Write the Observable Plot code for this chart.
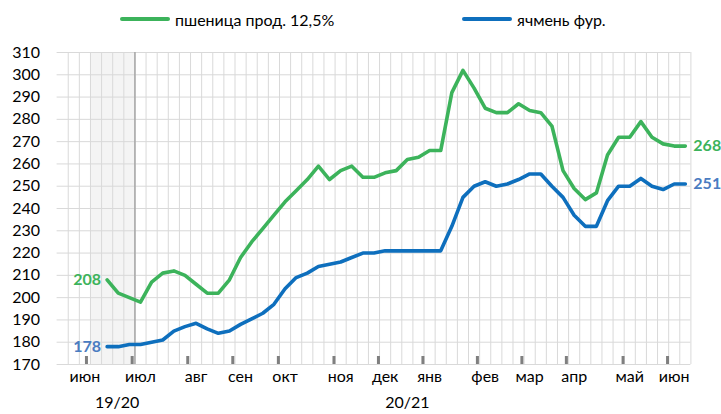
<!DOCTYPE html>
<html><head><meta charset="utf-8">
<script src="https://cdn.jsdelivr.net/npm/d3@7"></script>
<script src="https://cdn.jsdelivr.net/npm/@observablehq/plot@0.6"></script>
<style>
body{margin:0;background:#fff;font-family:Lato,"Open Sans",sans-serif;}
#wrap{width:721px;height:414px;position:relative;overflow:hidden;background:#fff}
#legend{height:40px;position:relative;font-size:16px;color:#000}
.item{position:absolute;top:0;height:38px;display:flex;align-items:center;white-space:nowrap}
.sw{width:50px;height:4px;border-radius:2px;margin-right:5px}
</style></head><body>
<div id="wrap"><div id="legend"></div><div id="chart"></div></div>
<script>
// ---- data ----
const seriesNames = ["пшеница прод. 12,5%", "ячмень фур."];
const firstWeek = 4;           // category index of the first observation
const totalWeeks = 57;         // number of weekly categories on the axis
const wheat = [208,202,200,198,207,211,212,210,206,202,202,208,218,225,231,237,243,248,253,259,253,257,259,254,254,256,257,262,263,266,266,292,302,294,285,283,283,287,284,283,277,257,249,244,247,264,272,272,279,272,269,268,268];
const barley = [178,178,179,179,180,181,185,187,188.5,186,184,185,188,190.5,193,197,204,209,211,214,215,216,218,220,220,221,221,221,221,221,221,232,245,250,252,250,251,253,255.5,255.5,250,245,237,232,232,243.5,250,250,253.5,250,248.5,251,251];
const monthNames = ["июн","июл","авг","сен","окт","ноя","дек","янв","фев","мар","апр","май","июн"];
const monthLabelPos = [2.5,7.5,12.5,16.5,20.5,25.5,29.5,33.5,38.5,42.5,46.5,51.5,55.5];
const monthTickPos = [2.64,6.75,11.75,15.8,19.9,24.9,28.9,32.9,37.8,41.8,45.8,50.9,54.9];
const seasons = ["19/20","20/21"];
const seasonPos = [5.4,31.5];
const shade = [3,7];           // shaded weeks (previous season)
const yTicks = [170,180,190,200,210,220,230,240,250,260,270,280,290,300,310];

const green = "#3cb35b", blue = "#0e6fbd", blueLabel = "#4a7cc1";

// ---- legend ----
const leg = document.getElementById("legend");
[[seriesNames[0], green, 120],[seriesNames[1], blue, 462]].forEach(([t,c,l])=>{
  const d = document.createElement("div"); d.className="item"; d.style.left=l+"px";
  d.innerHTML = `<span class="sw" style="background:${c}"></span><span>${t}</span>`;
  leg.appendChild(d);
});

// ---- tables ----
const rows = (vals) => vals.map((v,i)=>({x: firstWeek + i + 0.5, y: v}));
const wRows = rows(wheat), bRows = rows(barley);
const gridX = d3.range(1, totalWeeks + 1);
const months = monthNames.map((m,i)=>({m, x: monthLabelPos[i]}));
const seas = seasons.map((s,i)=>({s, x: seasonPos[i]}));
const ends = [
  {...wRows[0], c: green, side:"start"}, {...bRows[0], c: blueLabel, side:"start"},
  {...wRows[wRows.length-1], c: green, side:"end"}, {...bRows[bRows.length-1], c: blueLabel, side:"end"}
];

const chart = Plot.plot({
  width: 721, height: 374,
  marginLeft: 56.6, marginRight: 30.6, marginTop: 12, marginBottom: 50,
  style: {fontFamily: 'Lato,"Open Sans",sans-serif', fontSize: "16px", color: "#000", background: "#fff"},
  x: {domain: [0, totalWeeks], axis: null},
  y: {domain: [170, 310], axis: null},
  marks: [
    Plot.rect([shade], {x1: d=>d[0], x2: d=>d[1], y1: 170, y2: 310, fill: "#f4f4f4"}),
    Plot.ruleX(gridX, {y1: 170, y2: 310, stroke: "#d9d9d9", strokeWidth: 1}),
    Plot.ruleY(yTicks, {stroke: "#d9d9d9", strokeWidth: 1}),
    Plot.ruleX([shade[1]], {y1: 170, y2: 310, stroke: "#a6a6a6", strokeWidth: 1.5}),
    Plot.axisX(monthTickPos, {anchor: "bottom", label: null, tickSize: -8, tickFormat: () => "", stroke: "#7f7f7f", strokeWidth: 3, strokeOpacity: 1}),
    Plot.axisY(yTicks, {anchor: "left", label: null, tickSize: 0, tickPadding: 17, fontSize: 16}),
    Plot.text(months, {x: "x", text: "m", frameAnchor: "bottom", dy: 17, fontSize: 16}),
    Plot.text(seas, {x: "x", text: "s", frameAnchor: "bottom", dy: 43, fontSize: 16}),
    Plot.lineY(wRows, {x: "x", y: "y", stroke: green, strokeWidth: 3.6, strokeLinejoin: "round"}),
    Plot.lineY(bRows, {x: "x", y: "y", stroke: blue, strokeWidth: 3.6, strokeLinejoin: "round"}),
    Plot.text(ends.filter(d=>d.side==="start"), {x: "x", y: "y", text: d=>String(Math.round(d.y)), fill: d=>d.c, textAnchor: "end", dx: -6, fontWeight: "bold", fontSize: 16}),
    Plot.text(ends.filter(d=>d.side==="end"), {x: "x", y: "y", text: d=>String(Math.round(d.y)), fill: d=>d.c, textAnchor: "start", dx: 8, fontWeight: "bold", fontSize: 16})
  ]
});
document.getElementById("chart").appendChild(chart);
</script>
</body></html>
